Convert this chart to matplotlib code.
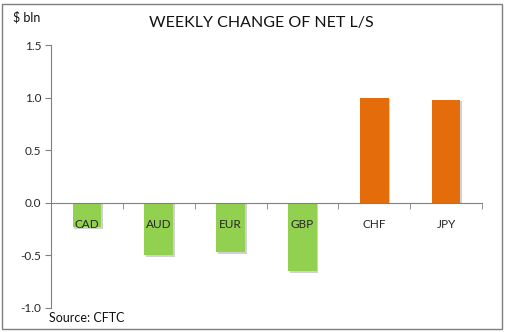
import matplotlib.pyplot as plt
import matplotlib.patheffects as pe
from matplotlib.patches import Rectangle

currencies = ['CAD', 'AUD', 'EUR', 'GBP', 'CHF', 'JPY']
changes = [-0.23, -0.50, -0.47, -0.65, 1.00, 0.98]
yticks = [-1.0, -0.5, 0.0, 0.5, 1.0, 1.5]

GREEN = '#92D050'
ORANGE = '#E46C0A'

plt.rcParams['font.family'] = ['Lato', 'DejaVu Sans']

fig = plt.figure(figsize=(5.05, 3.32), dpi=100)
fig.patch.set_facecolor('white')

# chart area border
fig.add_artist(Rectangle((2 / 505, 3 / 332), 500 / 505, 325 / 332,
                         transform=fig.transFigure, fill=False,
                         edgecolor='#7f7f7f', linewidth=1.0))

ax = fig.add_axes([51 / 505, 1 - 308 / 332, 431 / 505, 263 / 332])
ax.set_axisbelow(False)

x = list(range(len(currencies)))
colors = [GREEN if v < 0 else ORANGE for v in changes]
shadow = [pe.SimplePatchShadow(offset=(1.2, -1.2), shadow_rgbFace='#9a9a9a', alpha=0.45),
          pe.Normal()]
bars = ax.bar(x, changes, width=0.4, color=colors, zorder=2)
for b in bars:
    b.set_path_effects(shadow)

ax.set_xlim(-0.5, len(currencies) - 0.5)
ax.set_ylim(-1.0, 1.5)
ax.set_yticks(yticks)
ax.set_yticklabels([f'{v:.1f}' for v in yticks])

# category labels sit just under the zero line
ax.set_xticks(x)
ax.set_xticklabels(currencies)
ax.set_xticks([i - 0.5 for i in range(len(currencies) + 1)], minor=True)
ax.tick_params(axis='x', which='major', length=0, pad=12, labelsize=8.5, labelcolor='#262626')
ax.tick_params(axis='x', which='minor', length=4, direction='out', color='#808080')
ax.tick_params(axis='y', length=4, direction='out', color='#808080', labelsize=8.5,
               labelcolor='#262626', pad=3)

for side in ['top', 'right']:
    ax.spines[side].set_visible(False)
ax.spines['left'].set_color('#808080')
ax.spines['bottom'].set_color('#808080')
ax.spines['bottom'].set_position(('data', 0))
ax.set_facecolor('none')

fig.text(261 / 505, 1 - 23 / 332, 'WEEKLY CHANGE OF NET L/S', ha='center', va='center',
         fontsize=11.5, color='#111111')
fig.text(13 / 505, 1 - 17 / 332, '$ bln', ha='left', va='center', fontsize=9, color='#111111')
fig.text(49 / 505, 1 - 318 / 332, 'Source: CFTC', ha='left', va='center', fontsize=9,
         color='#111111')

fig.savefig('out.png', dpi=100, facecolor='white')
